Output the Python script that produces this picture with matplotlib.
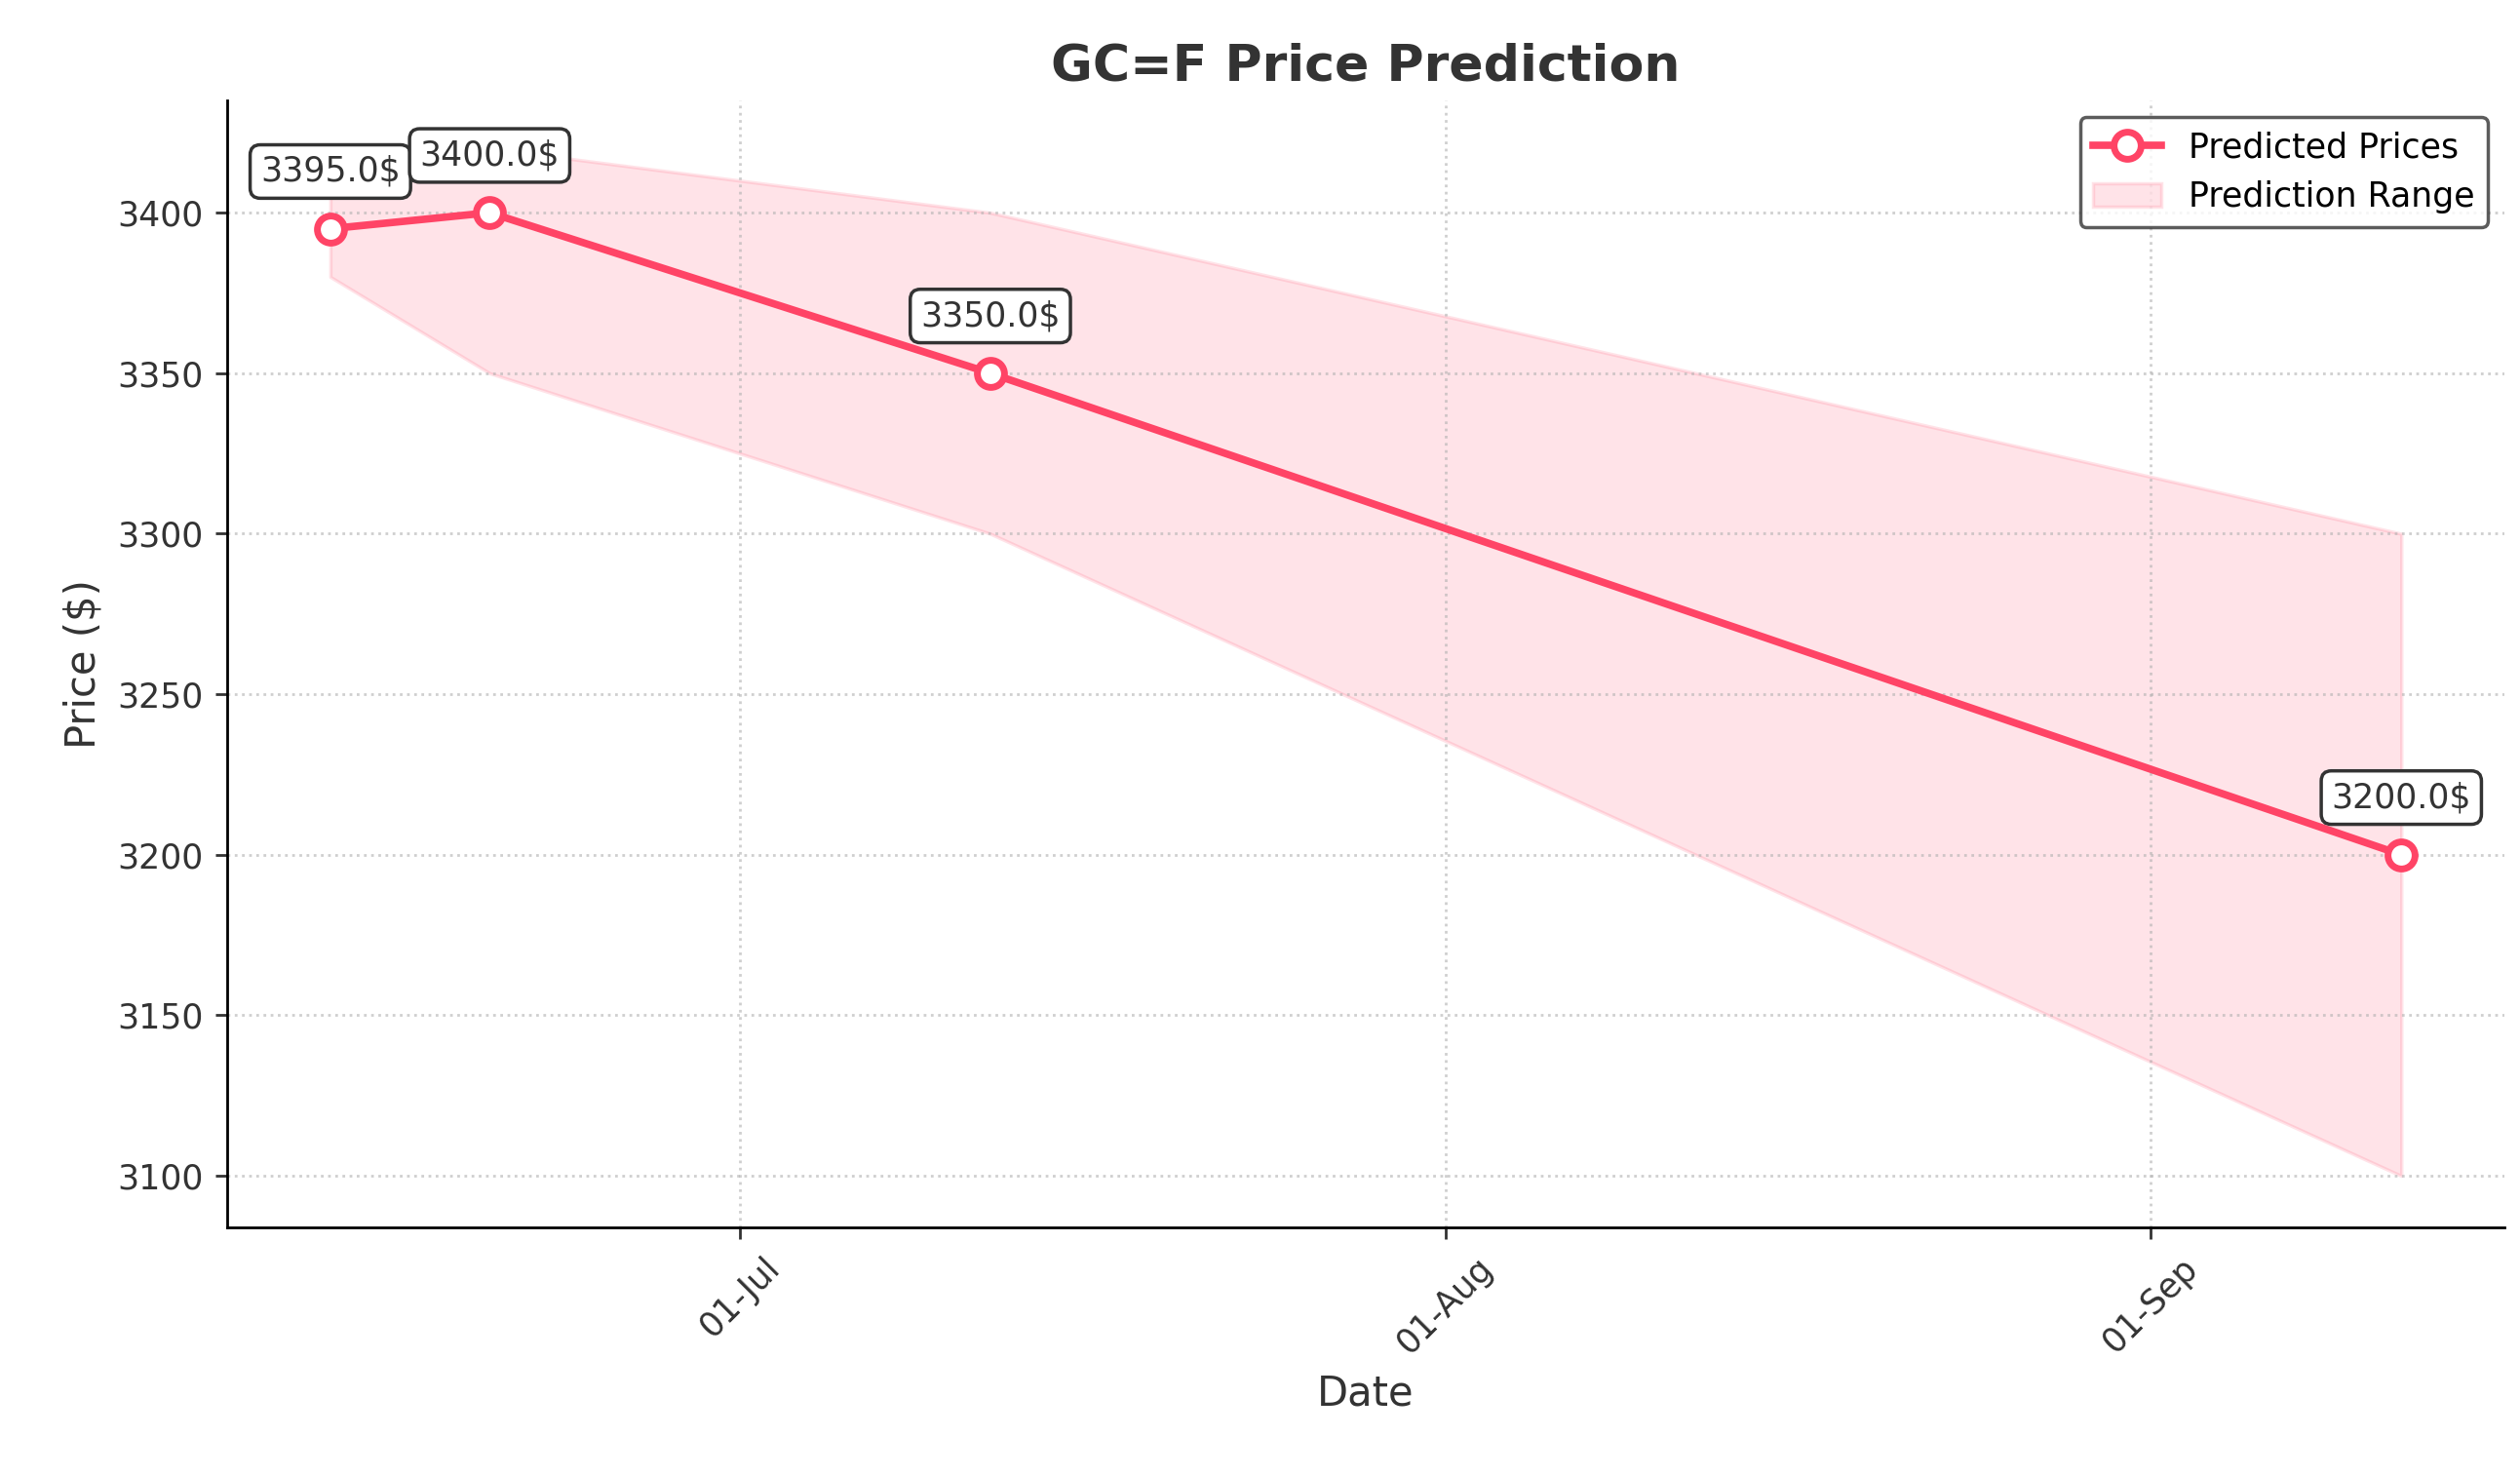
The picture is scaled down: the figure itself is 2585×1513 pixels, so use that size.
import matplotlib.pyplot as plt
import matplotlib.dates as mdates
import pandas as pd

dates = pd.to_datetime(["2025-06-13", "2025-06-20", "2025-07-12", "2025-09-12"])
predicted = [3395.0, 3400.0, 3350.0, 3200.0]
lower = [3380, 3350, 3300, 3100]
upper = [3410, 3420, 3400, 3300]

color = "#ff4466"

fig, ax = plt.subplots(figsize=(10.34, 6.052), dpi=250)
ax.plot(dates, predicted, color=color, lw=2.2, marker="o", markersize=8,
        markerfacecolor="white", markeredgewidth=2, label="Predicted Prices")
ax.fill_between(dates, lower, upper, color=color, alpha=0.15, label="Prediction Range")

for d, p in zip(dates, predicted):
    ax.annotate(f"{p:.1f}$", (d, p), xytext=(0, 12), textcoords="offset points",
                ha="center", va="bottom", fontsize=10, color="#333333",
                bbox=dict(boxstyle="round,pad=0.3", fc="white", ec="#333333"))

ax.set_title("GC=F Price Prediction", fontsize=15, fontweight="bold", color="#333333")
ax.set_xlabel("Date", fontsize=12, color="#333333")
ax.set_ylabel("Price ($)", fontsize=12, color="#333333")
ax.xaxis.set_major_locator(mdates.MonthLocator())
ax.xaxis.set_major_formatter(mdates.DateFormatter("%d-%b"))
plt.setp(ax.get_xticklabels(), rotation=45)
ax.tick_params(colors="#333333")
ax.grid(True, linestyle=":", alpha=0.6)
ax.spines["top"].set_visible(False)
ax.spines["right"].set_visible(False)
ax.set_ylim(3084, 3435)
ax.legend(loc="upper right", edgecolor="#333333")

fig.subplots_adjust(left=0.09, right=0.994, top=0.932, bottom=0.168)
plt.savefig("out.png", dpi=250)
